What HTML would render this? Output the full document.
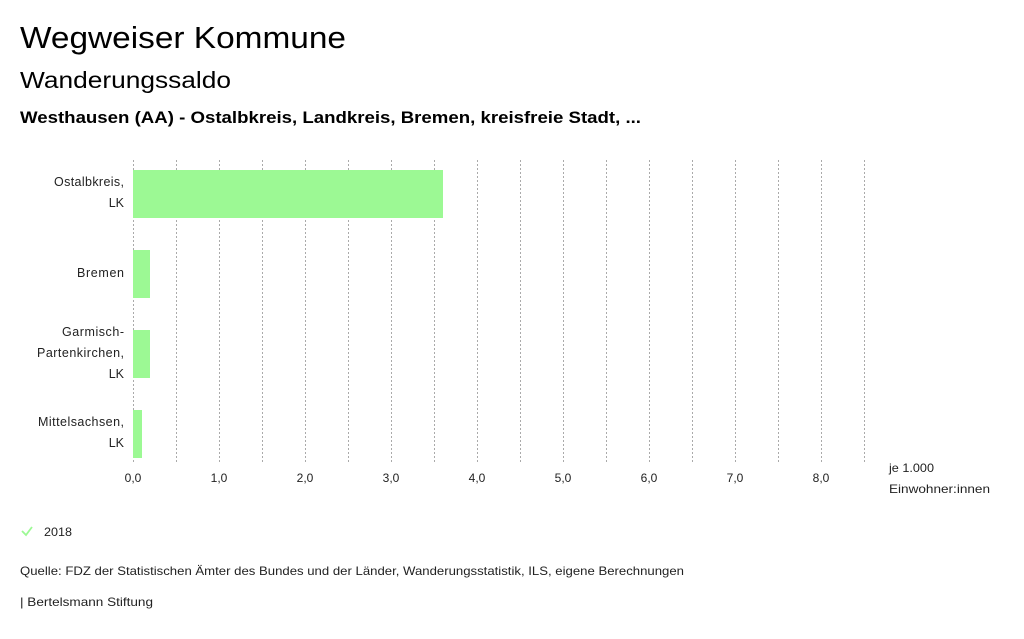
<!DOCTYPE html>
<html><head><meta charset="utf-8"><style>
body{margin:0;background:#fff;width:1024px;height:634px;overflow:hidden;font-family:"Liberation Sans","DejaVu Sans",sans-serif;color:#000}
</style></head><body>
<svg width="1024" height="634" xmlns="http://www.w3.org/2000/svg" font-family="Liberation Sans, DejaVu Sans, sans-serif">
<text x="20" y="48" font-size="31" textLength="326" lengthAdjust="spacingAndGlyphs">Wegweiser Kommune</text>
<text x="20" y="88" font-size="23" textLength="211" lengthAdjust="spacingAndGlyphs">Wanderungssaldo</text>
<text x="20" y="123" font-size="17" font-weight="bold" textLength="621" lengthAdjust="spacingAndGlyphs">Westhausen (AA) - Ostalbkreis, Landkreis, Bremen, kreisfreie Stadt, ...</text>
<g stroke="#aaa" stroke-dasharray="2,2" stroke-width="1">
<line x1="133.5" y1="160" x2="133.5" y2="464"/><line x1="176.5" y1="160" x2="176.5" y2="464"/><line x1="219.5" y1="160" x2="219.5" y2="464"/><line x1="262.5" y1="160" x2="262.5" y2="464"/><line x1="305.5" y1="160" x2="305.5" y2="464"/><line x1="348.5" y1="160" x2="348.5" y2="464"/><line x1="391.5" y1="160" x2="391.5" y2="464"/><line x1="434.5" y1="160" x2="434.5" y2="464"/><line x1="477.5" y1="160" x2="477.5" y2="464"/><line x1="520.5" y1="160" x2="520.5" y2="464"/><line x1="563.5" y1="160" x2="563.5" y2="464"/><line x1="606.5" y1="160" x2="606.5" y2="464"/><line x1="649.5" y1="160" x2="649.5" y2="464"/><line x1="692.5" y1="160" x2="692.5" y2="464"/><line x1="735.5" y1="160" x2="735.5" y2="464"/><line x1="778.5" y1="160" x2="778.5" y2="464"/><line x1="821.5" y1="160" x2="821.5" y2="464"/><line x1="864.5" y1="160" x2="864.5" y2="464"/>
</g>
<g fill="#9cf994">
<rect x="133" y="170" width="310" height="48"/>
<rect x="133" y="250" width="17" height="48"/>
<rect x="133" y="330" width="17" height="48"/>
<rect x="133" y="410" width="9" height="48"/>
</g>
<g font-size="12.5" text-anchor="end" fill="#222" lengthAdjust="spacingAndGlyphs">
<text x="124" y="186" textLength="70">Ostalbkreis,</text><text x="124" y="207">LK</text>
<text x="124" y="277" textLength="47">Bremen</text>
<text x="124" y="336" textLength="62">Garmisch-</text><text x="124" y="357" textLength="87">Partenkirchen,</text><text x="124" y="378">LK</text>
<text x="124" y="426" textLength="86">Mittelsachsen,</text><text x="124" y="447">LK</text>
</g>
<g font-size="12" text-anchor="middle" fill="#222">
<text x="133" y="482">0,0</text><text x="219" y="482">1,0</text><text x="305" y="482">2,0</text><text x="391" y="482">3,0</text><text x="477" y="482">4,0</text><text x="563" y="482">5,0</text><text x="649" y="482">6,0</text><text x="735" y="482">7,0</text><text x="821" y="482">8,0</text>
</g>
<text x="889" y="472" font-size="12" fill="#222" textLength="45" lengthAdjust="spacingAndGlyphs">je 1.000</text>
<text x="889" y="493" font-size="12" fill="#222" textLength="101" lengthAdjust="spacingAndGlyphs">Einwohner:innen</text>
<polyline points="22,531 26,535 32,527" fill="none" stroke="#9cf994" stroke-width="1.8"/>
<text x="44" y="536" font-size="12" fill="#222" textLength="28" lengthAdjust="spacingAndGlyphs">2018</text>
<text x="20" y="575" font-size="12" fill="#222" textLength="664" lengthAdjust="spacingAndGlyphs">Quelle: FDZ der Statistischen Ämter des Bundes und der Länder, Wanderungsstatistik, ILS, eigene Berechnungen</text>
<text x="20" y="606" font-size="12" fill="#222" textLength="133" lengthAdjust="spacingAndGlyphs">| Bertelsmann Stiftung</text>
</svg>
</body></html>
